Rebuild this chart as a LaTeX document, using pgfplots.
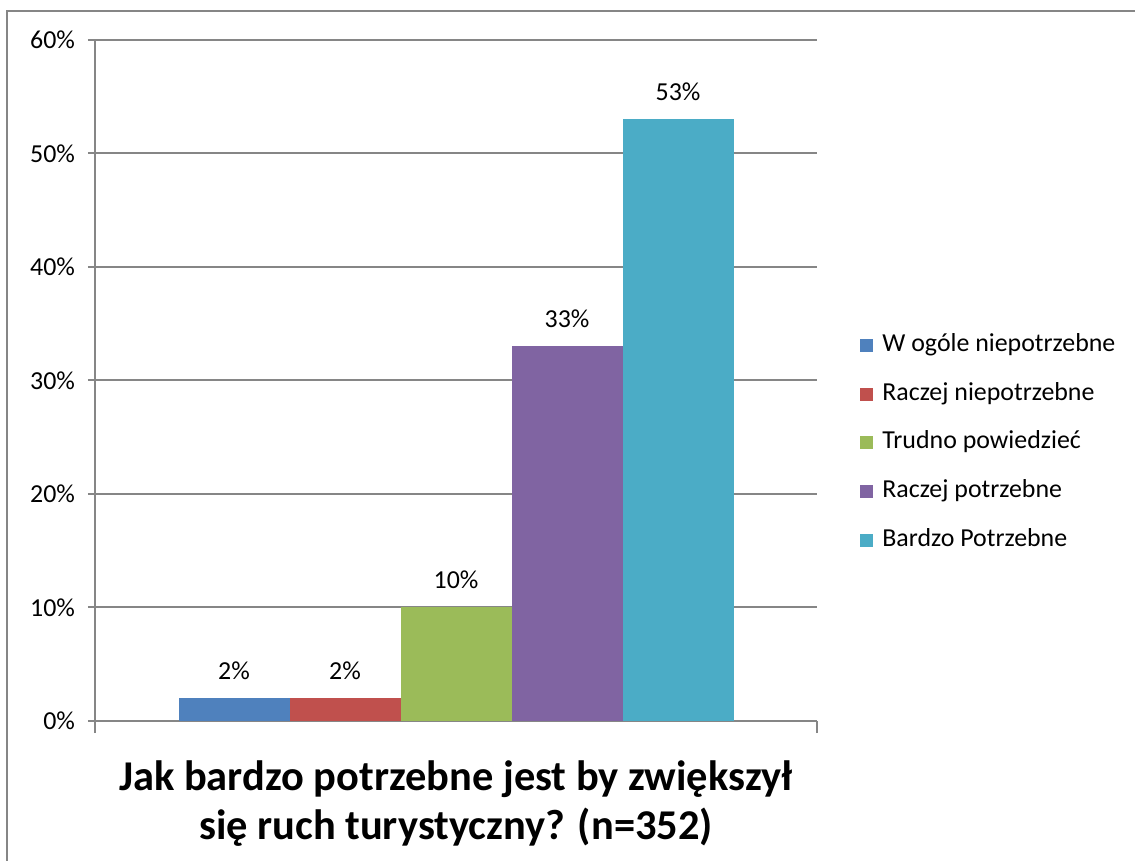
\documentclass[border=0pt]{standalone}
\usepackage{fontspec}
\setmainfont{Carlito}
\usepackage{pgfplots}
\pgfplotsset{compat=1.18}
\definecolor{xlblue}{HTML}{4F81BD}
\definecolor{xlred}{HTML}{C0504D}
\definecolor{xlgreen}{HTML}{9BBB59}
\definecolor{xlpurple}{HTML}{8064A2}
\definecolor{xlaqua}{HTML}{4BACC6}
\definecolor{xlgrid}{HTML}{868686}

\begin{document}
\begin{tikzpicture}
\useasboundingbox (-47.5bp,-70bp) rectangle (520bp,360.5bp);
\draw[xlgrid,line width=1bp] (-44bp,-80bp) -- (-44bp,355bp) -- (530bp,355bp);
\begin{axis}[
  at={(0,0)}, anchor=south west,
  scale only axis,
  width=361bp, height=340.5bp,
  ybar=0pt, bar width=55.5bp,
  xmin=-1, xmax=1, enlarge x limits=false,
  ymin=0, ymax=60,
  ytick={0,10,...,60},
  yticklabel={\pgfmathprintnumber{\tick}\%},
  xtick={-1,1}, xticklabels={},
  axis lines=left,
  axis line style={-, xlgrid, line width=1bp},
  ymajorgrids,
  grid style={xlgrid, line width=1bp},
  tick align=outside,
  major tick length=3.5bp,
  xtick style={xlgrid, line width=1bp, /pgfplots/major tick length=6bp},
  ytick style={xlgrid, line width=1bp},
  tick label style={font=\fontsize{13}{15.6}\selectfont},
  yticklabel style={xshift=-3bp},
  /pgf/number format/assume math mode=true,
  nodes near coords={\pgfmathprintnumber{\pgfplotspointmeta}\%},
  nodes near coords style={font=\fontsize{13}{15.6}\selectfont, anchor=south, yshift=6bp},
  legend image code/.code={\fill[#1, draw=none] (0bp,-3.25bp) rectangle (6.5bp,3.25bp);},
  legend style={at={(382.5bp,194bp)}, anchor=north west, draw=none, fill=none,
    font=\fontsize{13}{15.6}\selectfont, inner sep=0pt, row sep=12.4bp, column sep=4.5bp,
    nodes={inner sep=0pt, text height=9bp, text depth=3bp, anchor=west}},
  legend cell align=left,
]
\addplot[fill=xlblue, draw=none] coordinates {(0,2)};
\addlegendentry{W ogóle niepotrzebne}
\addplot[fill=xlred, draw=none] coordinates {(0,2)};
\addlegendentry{Raczej niepotrzebne}
\addplot[fill=xlgreen, draw=none] coordinates {(0,10)};
\addlegendentry{Trudno powiedzieć}
\addplot[fill=xlpurple, draw=none] coordinates {(0,33)};
\addlegendentry{Raczej potrzebne}
\addplot[fill=xlaqua, draw=none] coordinates {(0,53)};
\addlegendentry{Bardzo Potrzebne}
\end{axis}
\node[anchor=base, font=\bfseries\fontsize{21.3}{25}\selectfont] at (180.5bp,-34.5bp) {Jak bardzo potrzebne jest by zwiększył};
\node[anchor=base, font=\bfseries\fontsize{21.3}{25}\selectfont] at (180.5bp,-59bp) {się ruch turystyczny? (n=352)};
\end{tikzpicture}
\end{document}
